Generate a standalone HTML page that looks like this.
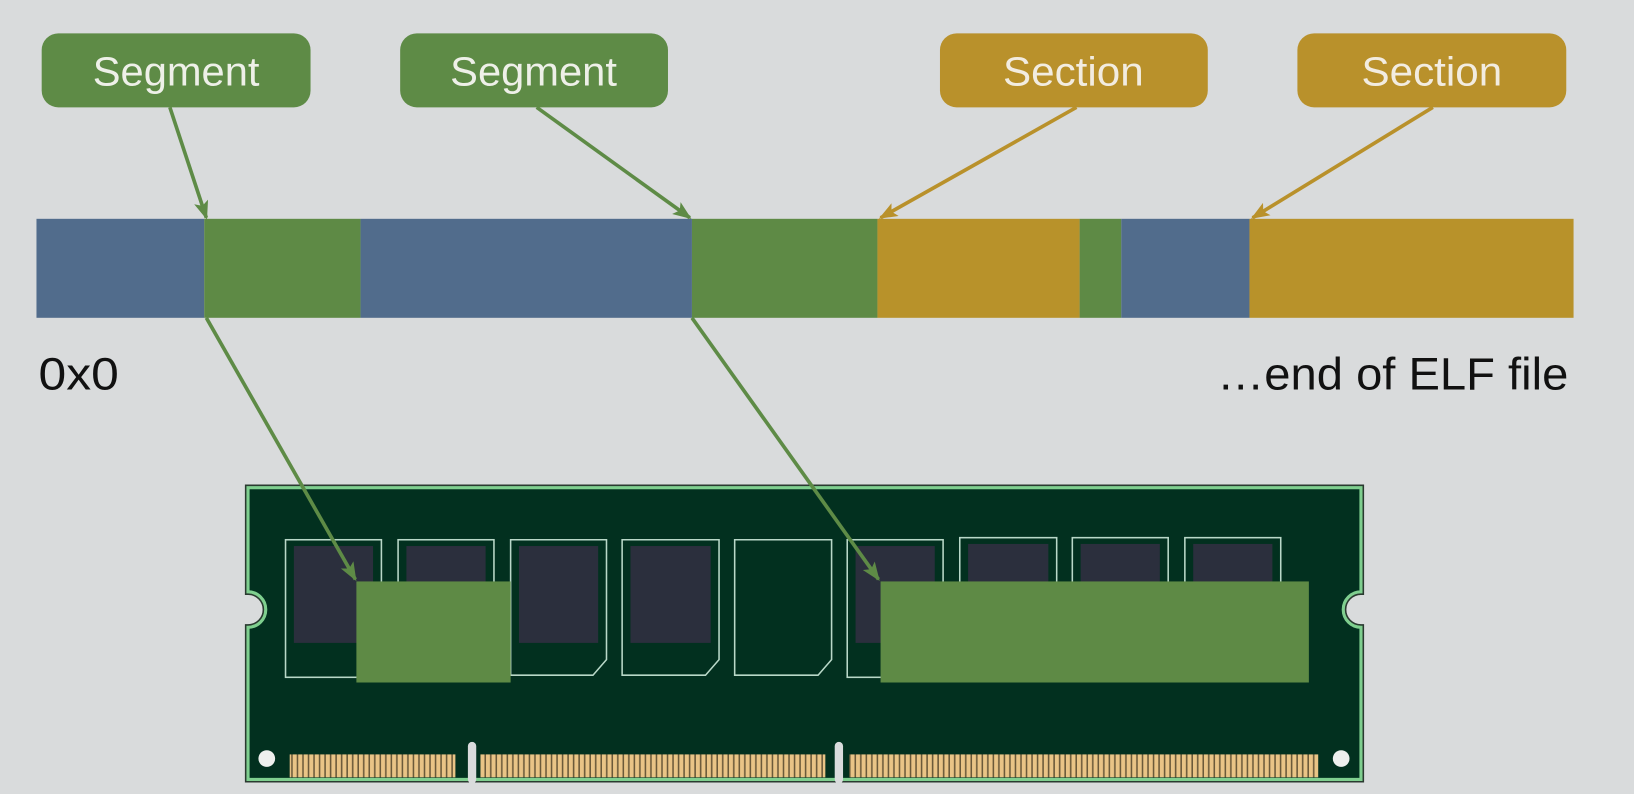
<!DOCTYPE html>
<html><head><meta charset="utf-8"><style>
html,body{margin:0;padding:0;background:#d9dbdc;overflow:hidden}
svg{display:block}
text{font-family:"Liberation Sans",sans-serif}
</style></head><body>
<svg width="1634" height="794" viewBox="0 0 1568 762" preserveAspectRatio="none" xmlns="http://www.w3.org/2000/svg">
<defs>
<marker id="ag" markerWidth="18" markerHeight="14" refX="16" refY="7" orient="auto" markerUnits="userSpaceOnUse"><path d="M0,0 L18,7 L0,14 L4,7 Z" fill="#5e8b46"/></marker>
<marker id="ay" markerWidth="18" markerHeight="14" refX="16" refY="7" orient="auto" markerUnits="userSpaceOnUse"><path d="M0,0 L18,7 L0,14 L4,7 Z" fill="#b9912b"/></marker>
<pattern id="pins" x="0" y="0" width="5.3" height="30" patternUnits="userSpaceOnUse"><rect width="5.3" height="30" fill="#e9c486"/><rect x="3.8" width="1.5" height="30" fill="#6b5a3a"/></pattern>
</defs>
<rect width="1568" height="762" fill="#d9dbdc"/>
<!-- labels -->
<rect x="40" y="32" width="258" height="71" rx="16" fill="#5e8b46"/>
<text x="169" y="82" font-size="39" fill="#eef0e8" text-anchor="middle" textLength="160" lengthAdjust="spacingAndGlyphs">Segment</text>
<rect x="384" y="32" width="257" height="71" rx="16" fill="#5e8b46"/>
<text x="512" y="82" font-size="39" fill="#eef0e8" text-anchor="middle" textLength="160" lengthAdjust="spacingAndGlyphs">Segment</text>
<rect x="902" y="32" width="257" height="71" rx="16" fill="#b9912b"/>
<text x="1030" y="82" font-size="39" fill="#f2ece0" text-anchor="middle" textLength="135" lengthAdjust="spacingAndGlyphs">Section</text>
<rect x="1245" y="32" width="258" height="71" rx="16" fill="#b9912b"/>
<text x="1374" y="82" font-size="39" fill="#f2ece0" text-anchor="middle" textLength="135" lengthAdjust="spacingAndGlyphs">Section</text>
<!-- bar -->
<rect x="35" y="210" width="161" height="95" fill="#516c8c"/>
<rect x="196" y="210" width="150" height="95" fill="#5e8a45"/>
<rect x="346" y="210" width="318" height="95" fill="#516c8c"/>
<rect x="664" y="210" width="178" height="95" fill="#5e8a45"/>
<rect x="842" y="210" width="194" height="95" fill="#b8922a"/>
<rect x="1036" y="210" width="40" height="95" fill="#5e8a45"/>
<rect x="1076" y="210" width="123" height="95" fill="#516c8c"/>
<rect x="1199" y="210" width="311" height="95" fill="#b8922a"/>
<text x="37" y="374" font-size="44" fill="#111" textLength="77" lengthAdjust="spacingAndGlyphs">0x0</text>
<text x="1168" y="374" font-size="44" fill="#111" textLength="337" lengthAdjust="spacingAndGlyphs">…end of ELF file</text>
<!-- RAM -->
<path d="M238,468 H1306 V568 A17,17 0 0 0 1306,602 V748 H238 V602 A17,17 0 0 0 238,568 Z" fill="#02301f" stroke="#2a3a30" stroke-width="6"/>
<path d="M238,468 H1306 V568 A17,17 0 0 0 1306,602 V748 H238 V602 A17,17 0 0 0 238,568 Z" fill="#02301f" stroke="#7fcf8f" stroke-width="3"/>
<g fill="none" stroke="#b9d8c8" stroke-width="1.5">
<rect x="274" y="518" width="92" height="132"/>
<rect x="382" y="518" width="92" height="132"/>
<path d="M490,518 H582 V633 L569,648 H490 Z"/>
<path d="M597,518 H690 V633 L677,648 H597 Z"/>
<path d="M705,518 H798 V633 L785,648 H705 Z"/>
<rect x="813" y="518" width="92" height="132"/>
<rect x="921" y="516" width="93" height="132"/>
<rect x="1029" y="516" width="92" height="132"/>
<rect x="1137" y="516" width="92" height="132"/>
</g>
<g fill="#2b2f3d">
<rect x="282" y="524" width="76" height="93"/>
<rect x="390" y="524" width="76" height="93"/>
<rect x="498" y="524" width="76" height="93"/>
<rect x="605" y="524" width="77" height="93"/>
<rect x="821" y="524" width="76" height="93"/>
<rect x="929" y="522" width="77" height="93"/>
<rect x="1037" y="522" width="76" height="93"/>
<rect x="1145" y="522" width="76" height="93"/>
</g>
<rect x="342" y="558" width="148" height="97" fill="#5e8a45"/>
<rect x="845" y="558" width="411" height="97" fill="#5e8a45"/>
<circle cx="256" cy="728" r="8" fill="#eef0ee"/>
<circle cx="1287" cy="728" r="8" fill="#eef0ee"/>
<rect x="278" y="724" width="159" height="22" fill="url(#pins)"/>
<rect x="461" y="724" width="331" height="22" fill="url(#pins)"/>
<rect x="815" y="724" width="450" height="22" fill="url(#pins)"/>
<rect x="449" y="712" width="8" height="40" rx="4" fill="#d9dbdc"/>
<rect x="801" y="712" width="8" height="40" rx="4" fill="#d9dbdc"/>
<!-- arrows -->
<g stroke-width="3.5" fill="none">
<line x1="163" y1="103" x2="198" y2="209" stroke="#5e8b46" marker-end="url(#ag)"/>
<line x1="515" y1="103" x2="662" y2="209" stroke="#5e8b46" marker-end="url(#ag)"/>
<line x1="1033" y1="103" x2="845" y2="209" stroke="#b9912b" marker-end="url(#ay)"/>
<line x1="1375" y1="103" x2="1202" y2="209" stroke="#b9912b" marker-end="url(#ay)"/>
<line x1="198" y1="305" x2="341" y2="556" stroke="#5e8b46" marker-end="url(#ag)"/>
<line x1="664" y1="305" x2="843" y2="556" stroke="#5e8b46" marker-end="url(#ag)"/>
</g>
</svg>
</body></html>
